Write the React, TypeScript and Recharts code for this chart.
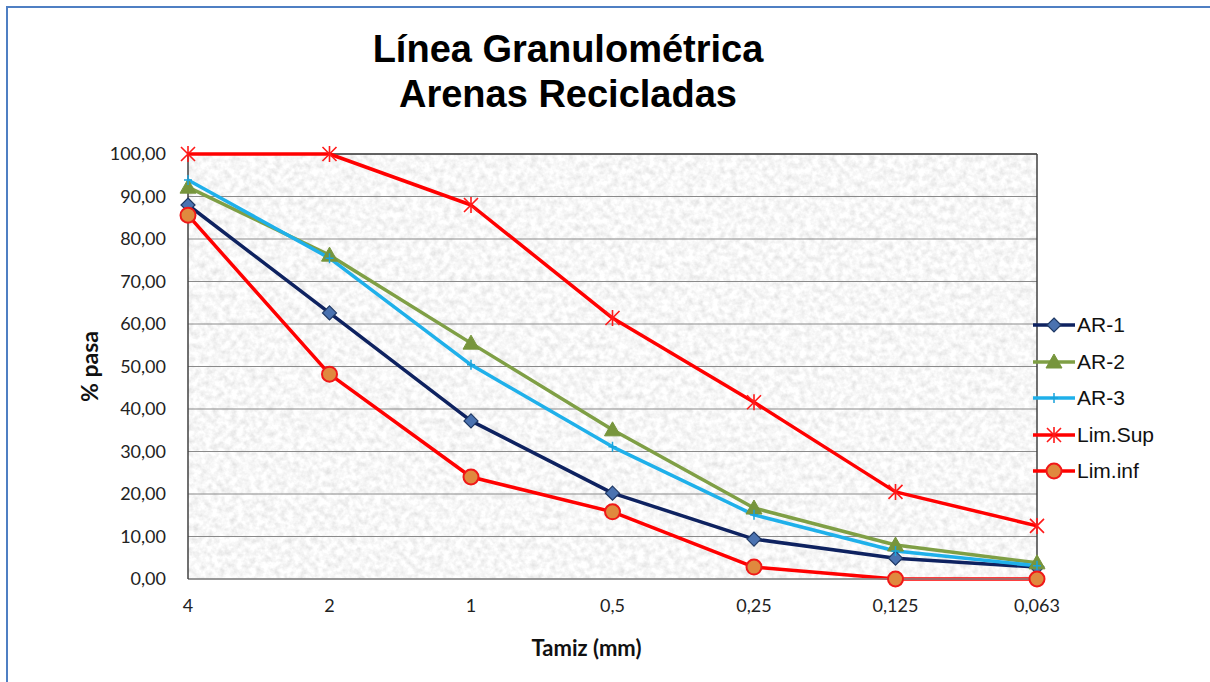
import { LineChart, Line, XAxis, YAxis, CartesianGrid, Legend, ReferenceLine, Label } from 'recharts'

// Tamiz (mm) and % que pasa
const sieves = ['4', '2', '1', '0,5', '0,25', '0,125', '0,063']
const ar1 = [88.0, 62.6, 37.2, 20.2, 9.4, 4.9, 2.8]
const ar2 = [92.2, 76.2, 55.5, 35.1, 16.7, 8.0, 3.8]
const ar3 = [93.9, 75.5, 50.4, 31.1, 15.1, 6.6, 3.1]
const limSup = [100, 100, 88.0, 61.4, 41.6, 20.5, 12.5]
const limInf = [85.6, 48.2, 24.0, 15.8, 2.8, 0, 0]
const yTicks = [0, 10, 20, 30, 40, 50, 60, 70, 80, 90, 100]

const data = sieves.map((s, i) => ({
    tamiz: s,
    'AR-1': ar1[i],
    'AR-2': ar2[i],
    'AR-3': ar3[i],
    'Lim.Sup': limSup[i],
    'Lim.inf': limInf[i],
}))

type MarkerProps = { cx?: number; cy?: number }

const Diamond = ({ cx = 0, cy = 0 }: MarkerProps) => (
    <path
        d={`M${cx},${cy - 7} L${cx + 7},${cy} L${cx},${cy + 7} L${cx - 7},${cy} Z`}
        fill="#4a72b0" stroke="#1f3864" strokeWidth={1.2}
    />
)

const Triangle = ({ cx = 0, cy = 0 }: MarkerProps) => (
    <path
        d={`M${cx},${cy - 8} L${cx + 8},${cy + 6} L${cx - 8},${cy + 6} Z`}
        fill="#77953c" stroke="#77953c" strokeWidth={1}
    />
)

const Plus = ({ cx = 0, cy = 0 }: MarkerProps) => (
    <path
        d={`M${cx - 4},${cy} L${cx + 4},${cy} M${cx},${cy - 5} L${cx},${cy + 5}`}
        stroke="#1aa3dc" strokeWidth={1.5} fill="none"
    />
)

const Star = ({ cx = 0, cy = 0 }: MarkerProps) => (
    <path
        d={`M${cx - 7},${cy - 7} L${cx + 7},${cy + 7} M${cx + 7},${cy - 7} L${cx - 7},${cy + 7} M${cx},${cy - 8} L${cx},${cy + 8}`}
        stroke="#ff1a1a" strokeWidth={1.6} fill="none"
    />
)

const Circle = ({ cx = 0, cy = 0 }: MarkerProps) => (
    <circle cx={cx} cy={cy} r={7.5} fill="#e0893e" stroke="#f01818" strokeWidth={2} />
)

const series = [
    { key: 'AR-1', color: '#0e2260', Marker: Diamond },
    { key: 'AR-2', color: '#7f9f45', Marker: Triangle },
    { key: 'AR-3', color: '#1fb0ea', Marker: Plus },
    { key: 'Lim.Sup', color: '#ff0000', Marker: Star },
    { key: 'Lim.inf', color: '#ff0000', Marker: Circle },
]

const fmt = (v: number) => v.toFixed(2).replace('.', ',')

const CustomLegend = () => (
    <div>
        {series.map(({ key, color, Marker }) => (
            <div key={key} style={{ display: 'flex', alignItems: 'center', height: 36.5 }}>
                <svg width={46} height={20}>
                    <line x1={2} y1={10} x2={44} y2={10} stroke={color} strokeWidth={3.5} />
                    <Marker cx={23} cy={10} />
                </svg>
                <span style={{ fontFamily: '"Liberation Sans", Arial, sans-serif', fontSize: 21, color: '#111', marginLeft: 0 }}>
                    {key}
                </span>
            </div>
        ))}
    </div>
)

export default function App() {
    const tickStyle = { fill: '#222', fontSize: 18, fontFamily: 'Lato, sans-serif' }

    return (
        <div style={{ position: 'absolute', left: 0, top: 0, width: 1210, height: 682, background: '#fff' }}>
            <svg width={0} height={0} style={{ position: 'absolute' }}>
                <defs>
                    <filter id="graniteNoise" x="0" y="0" width="100%" height="100%">
                        <feTurbulence type="fractalNoise" baseFrequency="0.16" numOctaves={3} seed={7} />
                        <feColorMatrix
                            type="matrix"
                            values="0.42 0 0 0 0.72  0.42 0 0 0 0.72  0.42 0 0 0 0.72  0 0 0 0 1"
                        />
                    </filter>
                    <pattern id="granite" patternUnits="userSpaceOnUse" x={0} y={0} width={1210} height={682}>
                        <rect width={1210} height={682} filter="url(#graniteNoise)" />
                    </pattern>
                </defs>
            </svg>

            <div
                style={{
                    position: 'absolute', left: 6, top: 6, right: 0, bottom: 0,
                    borderLeft: '2px solid #4f7fc3', borderTop: '2px solid #4f7fc3',
                }}
            />

            <div
                style={{
                    position: 'absolute', left: 0, top: 27, width: 1136, textAlign: 'center',
                    fontFamily: '"Liberation Sans", Arial, sans-serif', fontWeight: 'bold',
                    fontSize: 38, lineHeight: '45px', color: '#000',
                }}
            >
                Línea Granulométrica<br />Arenas Recicladas
            </div>

            <div style={{ position: 'absolute', left: 0, top: 0 }}>
                <LineChart
                    width={1210}
                    height={682}
                    data={data}
                    margin={{ top: 154, right: 173, bottom: 26, left: 60 }}
                >
                    <CartesianGrid vertical={false} stroke="#8a8a8a" fill="url(#granite)" fillOpacity={1} />
                    <XAxis
                        dataKey="tamiz"
                        height={77}
                        tick={tickStyle}
                        tickLine={false}
                        tickMargin={14}
                        axisLine={{ stroke: '#8a8a8a', strokeWidth: 1.5 }}
                    >
                        <Label
                            value="Tamiz (mm)"
                            position="insideBottom"
                            offset={0}
                            dx={-26}
                            style={{ fontFamily: 'Lato, sans-serif', fontWeight: 'bold', fontSize: 22, fill: '#111' }}
                        />
                    </XAxis>
                    <YAxis
                        width={128}
                        domain={[0, 100]}
                        ticks={yTicks}
                        tick={tickStyle}
                        tickFormatter={fmt}
                        tickLine={false}
                        tickMargin={16}
                        axisLine={{ stroke: '#404040', strokeWidth: 1.5 }}
                    >
                        <Label
                            value="% pasa"
                            angle={-90}
                            position="insideLeft"
                            offset={30}
                            style={{ fontFamily: 'Lato, sans-serif', fontWeight: 'bold', fontSize: 23, fill: '#111', textAnchor: 'middle' }}
                        />
                    </YAxis>
                    <ReferenceLine x="0,063" stroke="#404040" strokeWidth={1.5} />
                    <ReferenceLine y={100} stroke="#404040" strokeWidth={1.5} />
                    {series.map(({ key, color, Marker }) => (
                        <Line
                            key={key}
                            type="linear"
                            dataKey={key}
                            stroke={color}
                            strokeWidth={3.5}
                            strokeLinejoin="round"
                            isAnimationActive={false}
                            dot={(p: any) => <Marker key={`${key}-${p.index}`} cx={p.cx} cy={p.cy} />}
                            activeDot={false}
                        />
                    ))}
                    <Legend
                        content={<CustomLegend />}
                        layout="vertical"
                        verticalAlign="middle"
                        align="center"
                        wrapperStyle={{ position: 'absolute', left: 1031, top: 307, width: 170 }}
                    />
                </LineChart>
            </div>
        </div>
    )
}
